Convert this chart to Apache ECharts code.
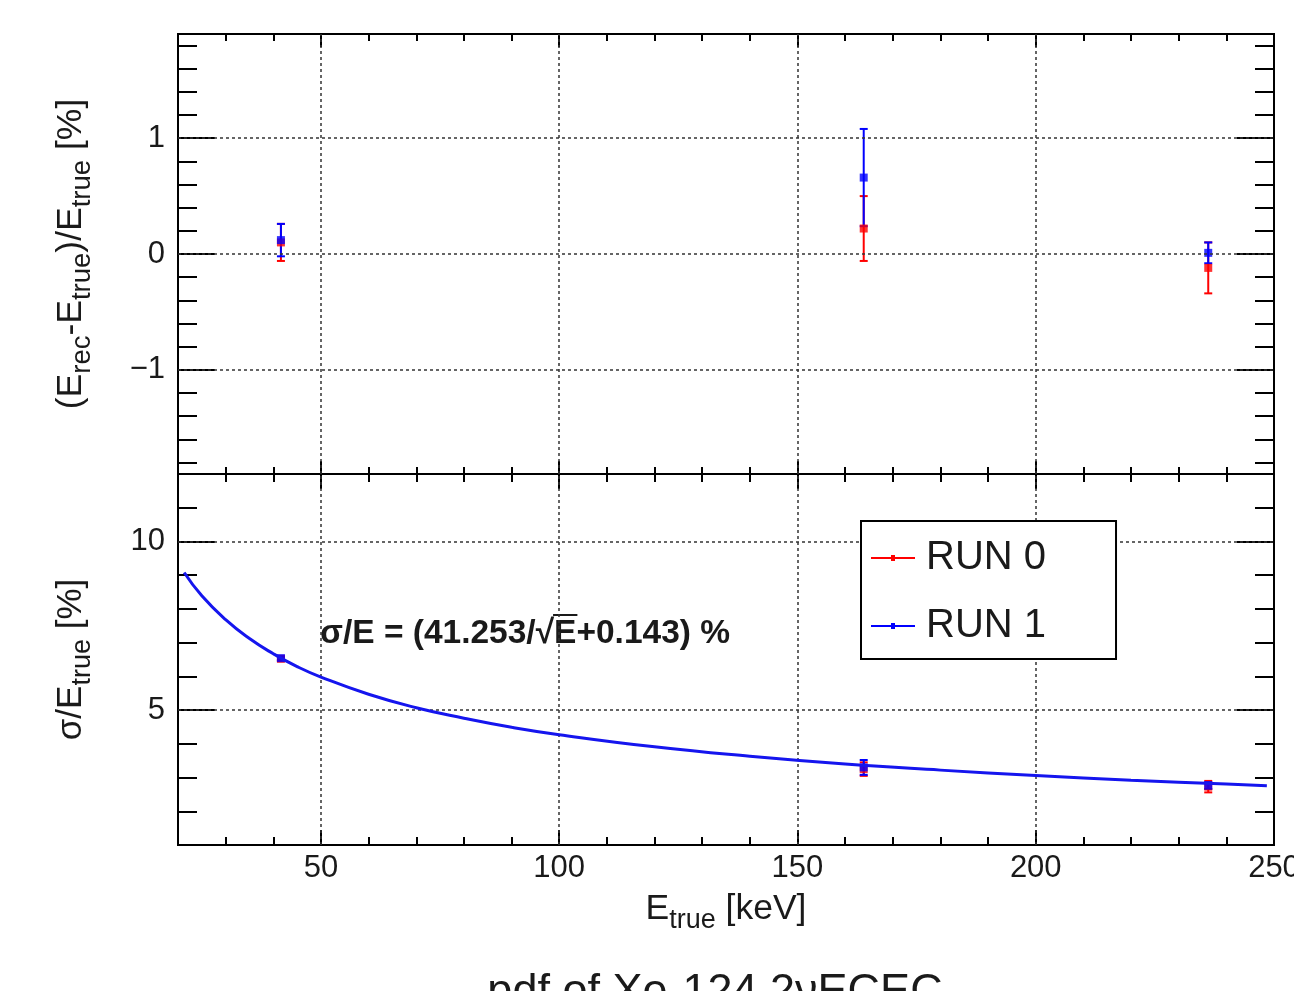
<!DOCTYPE html>
<html><head><meta charset="utf-8">
<script src="https://cdn.jsdelivr.net/npm/echarts@6/dist/echarts.min.js"></script>
<style>html,body{margin:0;padding:0;background:#fff}#c{width:1294px;height:991px}</style>
</head><body><div id="c"></div>
<script>
// ---- data ----
const energies = [41.6, 163.9, 236.2];
const run0Bias = [0.10, 0.22, -0.12];
const run0BiasErr = [0.16, 0.28, 0.22];
const run1Bias = [0.12, 0.66, 0.01];
const run1BiasErr = [0.14, 0.42, 0.09];
const run0Res = [6.52, 3.25, 2.73];
const run0ResErr = [0.06, 0.20, 0.17];
const run1Res = [6.54, 3.30, 2.76];
const run1ResErr = [0.05, 0.22, 0.10];
const fitE = [21.3, 25, 30, 35, 40, 45, 50, 60, 70, 80, 90, 100, 120, 140, 160, 180, 200, 220, 240, 248.5];
const fitRes = [9.08, 8.39, 7.68, 7.12, 6.67, 6.29, 5.98, 5.47, 5.07, 4.76, 4.49, 4.27, 3.91, 3.63, 3.40, 3.22, 3.06, 2.92, 2.81, 2.76];
const xMajorTicks = [50, 100, 150, 200, 250];
const xMinorTicks = [30, 40, 60, 70, 80, 90, 110, 120, 130, 140, 160, 170, 180, 190, 210, 220, 230, 240];
const xGridLines = [50, 100, 150, 200];
const biasMajorTicks = [-1, 0, 1];
const biasMinorTicks = [-1.8, -1.6, -1.4, -1.2, -0.8, -0.6, -0.4, -0.2, 0.2, 0.4, 0.6, 0.8, 1.2, 1.4, 1.6, 1.8];
const resMajorTicks = [5, 10];
const resMinorTicks = [2, 3, 4, 6, 7, 8, 9, 11];
const legendNames = ['RUN 0', 'RUN 1'];
const formulaText = 'σ/E = (41.253/√E+0.143) %';
const titleText = 'pdf of Xe-124 2νECEC';

const FONT = '"Liberation Sans", Arial, Helvetica, sans-serif';
const RED = '#ff0000', BLUE = '#0000ff', TXT = '#1a1a1a';

function fmt(v) { return v < 0 ? '\u2212' + Math.abs(v) : String(v); }

function frameAxes(dim, grid, min, max, major, minor, majLen, minLen, labels, name, nameGap, nameSize, subSize) {
  const pos = dim === 'x' ? ['bottom', 'top'] : ['left', 'right'];
  const axes = [];
  pos.forEach((p, i) => {
    [[major, majLen], [minor, minLen]].forEach(([vals, len], j) => {
      const main = i === 0 && j === 0;
      const ax = {
        type: 'value', gridIndex: grid, position: p, min: min, max: max, offset: 0,
        axisLine: { show: false, onZero: false },
        axisTick: { show: true, inside: true, length: len, customValues: vals, lineStyle: { color: '#000', width: 2 } },
        axisLabel: { show: false },
        splitLine: { show: false }
      };
      if (main && labels) {
        ax.axisLabel = { show: true, customValues: vals, formatter: fmt, fontFamily: FONT, fontSize: 31, color: TXT,
                         margin: dim === 'x' ? 8 : 13 };
      }
      if (main && name) {
        ax.name = name; ax.nameLocation = 'middle'; ax.nameGap = nameGap;
        ax.nameTextStyle = {
          fontFamily: FONT, fontSize: nameSize, color: TXT,
          rich: { sub: { fontFamily: FONT, fontSize: subSize, color: TXT, verticalAlign: 'top', padding: [22, 0, 0, 0] } }
        };
      }
      axes.push(ax);
    });
  });
  return axes;
}

const xAxes = [].concat(
  frameAxes('x', 0, 20, 250, xMajorTicks, xMinorTicks, 13, 7, false, null, 0),
  frameAxes('x', 1, 20, 250, xMajorTicks, xMinorTicks, 15, 8, true, 'E{sub|true} [keV]', 40, 35.5, 27)
);
const yAxes = [].concat(
  frameAxes('y', 0, -1.9, 1.9, biasMajorTicks, biasMinorTicks, 37, 19, true, '(E{sub|rec}-E{sub|true})/E{sub|true} [%]', 82, 35.5, 27.5),
  frameAxes('y', 1, 1, 12, resMajorTicks, resMinorTicks, 37, 19, true, 'σ/E{sub|true} [%]', 82, 35, 27)
);

function errRender(color) {
  return function (params, api) {
    const x = api.value(0), y = api.value(1), e = api.value(2);
    const t = api.coord([x, y + e]), b = api.coord([x, y - e]);
    const cap = 4;
    const st = { stroke: color, lineWidth: 2 };
    return { type: 'group', children: [
      { type: 'line', shape: { x1: t[0], y1: t[1], x2: b[0], y2: b[1] }, style: st },
      { type: 'line', shape: { x1: t[0] - cap, y1: t[1], x2: t[0] + cap, y2: t[1] }, style: st },
      { type: 'line', shape: { x1: b[0] - cap, y1: b[1], x2: b[0] + cap, y2: b[1] }, style: st }
    ] };
  };
}
function triples(xs, ys, es) { return xs.map((x, i) => [x, ys[i], es[i]]); }
function pairs(xs, ys) { return xs.map((x, i) => [x, ys[i]]); }

const gridLineStyle = { color: '#333', width: 1.5, type: [3, 3] };
function gridSeries(xi, yi, xs, ys) {
  return {
    type: 'scatter', name: 'gridlines' + xi, xAxisIndex: xi, yAxisIndex: yi, data: [], silent: true, z: 1,
    markLine: {
      silent: true, symbol: 'none', label: { show: false }, lineStyle: gridLineStyle, animation: false,
      data: xs.map(v => ({ xAxis: v })).concat(ys.map(v => ({ yAxis: v })))
    }
  };
}
function errSeries(name, color, xi, yi, data) {
  return { type: 'custom', name: name, xAxisIndex: xi, yAxisIndex: yi, data: data,
           encode: { x: 0, y: 1 }, renderItem: errRender(color), z: 3, silent: true };
}
function ptSeries(name, color, xi, yi, data) {
  return { type: 'scatter', name: name, xAxisIndex: xi, yAxisIndex: yi, data: data, symbol: 'rect',
           symbolSize: 8, itemStyle: { color: color }, z: 4, silent: true };
}

// line with a small marker; a tiny spacer at the right end widens the icon box
const legendIcon = 'path://M0,3 L44,3 L44,5 L0,5 Z M20,1 L24,1 L24,7 L20,7 Z M49.8,3.9 L50,3.9 L50,4.1 L49.8,4.1 Z';

const option = {
  animation: false,
  backgroundColor: '#fff',
  grid: [
    { left: 178, right: 20, top: 34, height: 440, show: true, borderColor: '#000', borderWidth: 2,
      backgroundColor: 'transparent', containLabel: false, outerBoundsMode: 'none' },
    { left: 178, right: 20, top: 474, height: 371, show: true, borderColor: '#000', borderWidth: 2,
      backgroundColor: 'transparent', containLabel: false, outerBoundsMode: 'none' }
  ],
  xAxis: xAxes,
  yAxis: yAxes,
  legend: {
    z: 20,
    data: [
      { name: legendNames[0], icon: legendIcon, itemStyle: { color: RED } },
      { name: legendNames[1], icon: legendIcon, itemStyle: { color: BLUE } }
    ],
    orient: 'vertical', left: 861, top: 521,
    itemWidth: 50, itemHeight: 8, itemGap: 28,
    padding: [17, 70, 13, 10],
    borderColor: '#000', borderWidth: 2, backgroundColor: '#fff',
    selectedMode: false,
    textStyle: { fontFamily: FONT, fontSize: 40, color: TXT }
  },
  series: [
    gridSeries(0, 0, xGridLines, biasMajorTicks),
    gridSeries(4, 4, xGridLines, resMajorTicks),
    errSeries(legendNames[0], RED, 0, 0, triples(energies, run0Bias, run0BiasErr)),
    errSeries(legendNames[1], BLUE, 0, 0, triples(energies, run1Bias, run1BiasErr)),
    ptSeries(legendNames[0], RED, 0, 0, pairs(energies, run0Bias)),
    ptSeries(legendNames[1], BLUE, 0, 0, pairs(energies, run1Bias)),
    errSeries(legendNames[0], RED, 4, 4, triples(energies, run0Res, run0ResErr)),
    errSeries(legendNames[1], BLUE, 4, 4, triples(energies, run1Res, run1ResErr)),
    ptSeries(legendNames[0], RED, 4, 4, pairs(energies, run0Res)),
    ptSeries(legendNames[1], BLUE, 4, 4, pairs(energies, run1Res)),
    { type: 'line', name: 'fit', xAxisIndex: 4, yAxisIndex: 4, data: pairs(fitE, fitRes), smooth: true,
      showSymbol: false, lineStyle: { color: '#1515ee', width: 3 }, z: 5, silent: true }
  ]
};

// formula text with sqrt overline
const cv = document.createElement('canvas').getContext('2d');
const fFont = 'bold 33.5px ' + FONT;
cv.font = fFont;
const fx = 320, fBase = 646;
const wPre = cv.measureText('σ/E = (41.253/√').width;
const wE = cv.measureText('E').width;
option.graphic = [
  { type: 'text', x: fx, y: fBase - 12, silent: true,
    style: { text: formulaText, font: fFont, fill: TXT, verticalAlign: 'middle', align: 'left' } },
  { type: 'line', silent: true, shape: { x1: fx + wPre - 1, y1: fBase - 31, x2: fx + wPre + wE + 1, y2: fBase - 31 },
    style: { stroke: TXT, lineWidth: 2 } },
  { type: 'text', x: 715, y: 970, silent: true,
    style: { text: titleText, font: '45px ' + FONT, fill: TXT, align: 'center', verticalAlign: 'top' } }
];

const chart = echarts.init(document.getElementById('c'), null, { renderer: 'canvas' });
chart.setOption(option);
</script>
</body></html>
